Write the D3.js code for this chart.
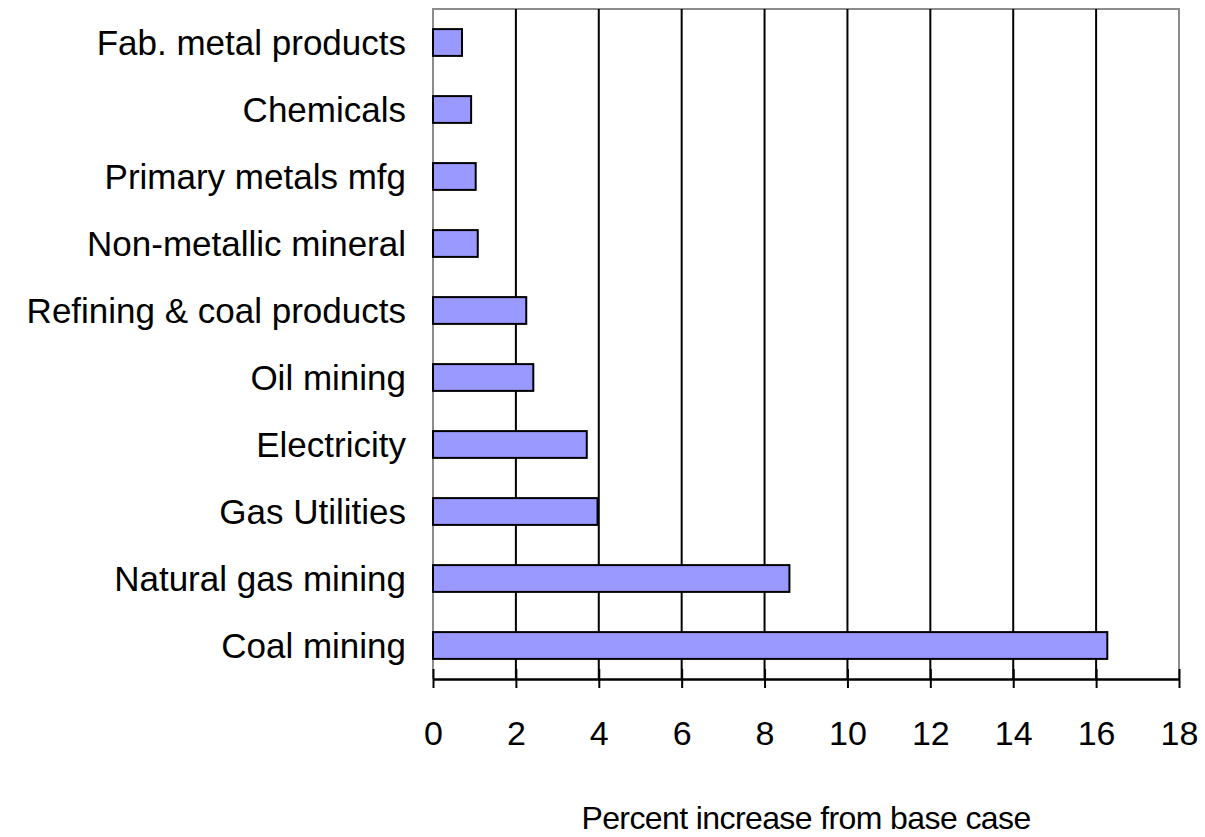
<!DOCTYPE html>
<html>
<head>
<meta charset="utf-8">
<script src="https://cdn.jsdelivr.net/npm/d3@7"></script>
<style>
  body { margin: 0; background: #fff; }
  text { font-family: "Liberation Sans", Arial, sans-serif; fill: #000; }
</style>
</head>
<body>
<div id="chart"></div>
<script>
// sectors, listed top to bottom
var categories = ["Fab. metal products", "Chemicals", "Primary metals mfg", "Non-metallic mineral",
                  "Refining & coal products", "Oil mining", "Electricity", "Gas Utilities",
                  "Natural gas mining", "Coal mining"];
var values = [0.70, 0.92, 1.03, 1.08, 2.25, 2.42, 3.71, 3.97, 8.60, 16.27];
var xTicks = [0, 2, 4, 6, 8, 10, 12, 14, 16, 18];
var xTitle = "Percent increase from base case";

var width = 1205, height = 837;
var margin = {top: 9, right: 26, bottom: 158, left: 433};
var plotW = width - margin.left - margin.right;
var plotH = height - margin.top - margin.bottom;

var svg = d3.select("#chart").append("svg")
    .attr("width", width)
    .attr("height", height);

var g = svg.append("g").attr("transform", "translate(" + margin.left + "," + margin.top + ")");

var x = d3.scaleLinear().domain([0, 18]).range([0, plotW]);
var y = d3.scaleBand().domain(categories).range([0, plotH]).paddingInner(0.6).paddingOuter(0.3);

// plot frame (grey on top, left and right)
g.append("path")
    .attr("d", "M0," + plotH + "V0H" + plotW + "V" + plotH)
    .attr("fill", "none")
    .attr("stroke", "#8c8c8c")
    .attr("stroke-width", 2);

// vertical gridlines
g.selectAll("line.grid").data(xTicks.filter(function(d){ return d > 0 && d < 18; }))
  .enter().append("line")
    .attr("class", "grid")
    .attr("x1", function(d){ return x(d); })
    .attr("x2", function(d){ return x(d); })
    .attr("y1", 0)
    .attr("y2", plotH)
    .attr("stroke", "#000")
    .attr("stroke-width", 2);

// bars
g.selectAll("rect.bar").data(values)
  .enter().append("rect")
    .attr("class", "bar")
    .attr("x", x(0))
    .attr("y", function(d, i){ return y(categories[i]); })
    .attr("width", function(d){ return x(d) - x(0); })
    .attr("height", y.bandwidth())
    .attr("fill", "#9999ff")
    .attr("stroke", "#000")
    .attr("stroke-width", 2);

// category labels
g.selectAll("text.cat").data(categories)
  .enter().append("text")
    .attr("class", "cat")
    .attr("x", -27)
    .attr("y", function(d){ return y(d) + y.bandwidth() / 2 + 12; })
    .attr("text-anchor", "end")
    .style("font-size", "35px")
    .text(function(d){ return d; });

// x axis: ticks cross the axis line
var xAxis = d3.axisBottom(x).tickValues(xTicks).tickSize(9).tickSizeOuter(0).tickFormat(d3.format("d"));
var ax = g.append("g").attr("transform", "translate(0," + plotH + ")").call(xAxis);
ax.select(".domain").attr("stroke", "#000").attr("stroke-width", 2.5);
ax.selectAll(".tick line").attr("y1", -10).attr("y2", 9).attr("stroke", "#000").attr("stroke-width", 2);
ax.selectAll(".tick text")
    .attr("y", 66)
    .attr("dy", null)
    .style("font-size", "34px")
    .style("font-family", "'Liberation Sans', Arial, sans-serif")
    .attr("fill", "#000");

// axis title
g.append("text")
    .attr("x", plotW / 2)
    .attr("y", plotH + 150)
    .attr("text-anchor", "middle")
    .style("font-size", "32px")
    .style("letter-spacing", "-0.6px")
    .text(xTitle);
</script>
</body>
</html>
